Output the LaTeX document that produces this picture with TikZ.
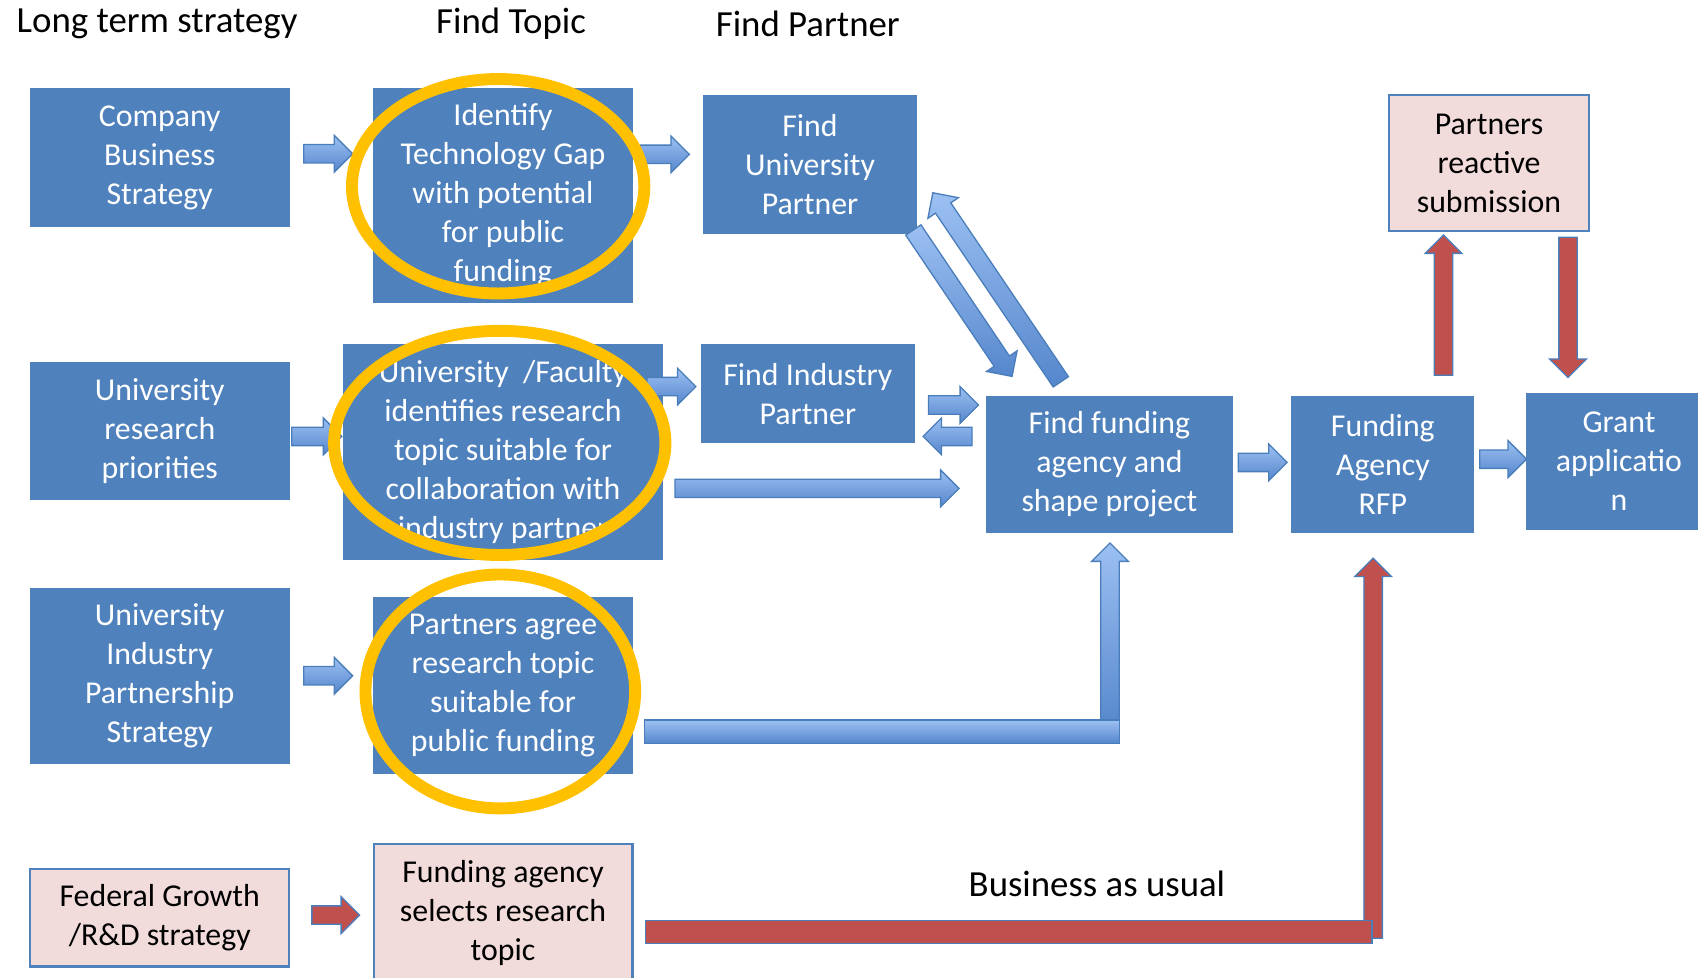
\documentclass[tikz,border=0pt]{standalone}
\usepackage{fontspec}
\setmainfont{Carlito}
\usetikzlibrary{calc}
\definecolor{boxblue}{HTML}{4F81BD}
\definecolor{boxpink}{HTML}{F2DCDB}
\definecolor{ringgold}{HTML}{FFC000}
\definecolor{arrtop}{HTML}{9CC0F2}
\definecolor{arrbot}{HTML}{5586CC}
\definecolor{arrline}{HTML}{4A7EBB}
\definecolor{arrred}{HTML}{C0504D}
\newcommand{\boxfont}{\fontsize{14.7}{18}\selectfont}
\newcommand{\headfont}{\fontsize{17}{20}\selectfont}
% block arrow from #2 to #3
\newcommand{\blockarr}[3][bluearr]{%
  \path #2 coordinate (ba) #3 coordinate (bb);
  \path ($(bb)!8.5pt!(ba)$) coordinate (bh);
  \path[#1] ($(ba)!4.25pt!90:(bb)$) -- ($(bh)!4.25pt!90:(bb)$)
    -- ($(bh)!8.5pt!90:(bb)$) -- (bb) -- ($(bh)!8.5pt!-90:(bb)$)
    -- ($(bh)!4.25pt!-90:(bb)$) -- ($(ba)!4.25pt!-90:(bb)$) -- cycle;}

\begin{document}
\begin{tikzpicture}[x = .5pt, y = -.5pt,
    box/.style = {draw=boxblue, fill=boxblue, text=white, font=\boxfont, align=center, inner sep=0pt},
    pinkbox/.style = {box, fill=boxpink, text=black, line width=1pt},
    head/.style = {font=\headfont},
    bluearr/.style = {draw=arrline, top color=arrtop, bottom color=arrbot, line width=.6pt},
    redarr/.style = {draw=arrline, fill=arrred, line width=.6pt},
    ring/.style = {draw=ringgold, line width=5.5pt}]

      \useasboundingbox (0,0) rectangle (1568,903);

      \node[head] (hlong) at (145,22) {Long term strategy};
      \node[head] (htopic) at (472,22) {Find Topic};
      \node[head] (hpart) at (746,22) {Find Partner};

      % left column
      \node[box, minimum width=119.5pt, minimum height=63.5pt] (comp) at (147.5,145.5) {Company\\Business\\Strategy};
      \node[box, minimum width=119.5pt, minimum height=63pt] (urp) at (147.5,398) {University\\research\\priorities};
      \node[box, minimum width=119.5pt, minimum height=81pt] (uips) at (147.5,624) {University\\Industry\\Partnership\\Strategy};
      \node[pinkbox, minimum width=119.5pt, minimum height=45pt] (fed) at (147.5,847.5) {Federal Growth\\/R\&D strategy};

      % topics
      \node[box, minimum width=119.5pt, minimum height=98.5pt] (ident) at (464.5,180.5) {Identify\\Technology Gap\\with potential\\for public\\funding};
      \node[box, minimum width=147.5pt, minimum height=99.5pt] (ufac) at (464.5,417.5) {University\ \ /Faculty\\identifies research\\topic suitable for\\collaboration with\\industry partner};
      \node[box, minimum width=119.5pt, minimum height=81pt] (agree) at (464.5,633) {Partners agree\\research topic\\suitable for\\public funding};
      \node[pinkbox, minimum width=119.5pt, minimum height=64pt] (sel) at (464.5,843) {Funding agency\\selects research\\topic};

      % partners and funding
      \node[box, minimum width=98pt, minimum height=64pt] (uniP) at (748,152) {Find\\University\\Partner};
      \node[box, minimum width=98pt, minimum height=45.5pt] (indP) at (746,363.5) {Find Industry\\Partner};
      \node[box, minimum width=113.5pt, minimum height=63pt] (fund) at (1024.5,429) {Find funding\\agency and\\shape project};
      \node[box, minimum width=84pt, minimum height=63pt] (rfp) at (1277,429) {Funding\\Agency\\RFP};
      \node[box, minimum width=85pt, minimum height=63pt] (grant) at (1495,426) {Grant\\applicatio\\n};
      \node[pinkbox, minimum width=92pt, minimum height=62.5pt] (react) at (1375,150.5) {Partners\\reactive\\submission};

      \node[head] (busy) at (1013,816) {Business as usual};

      % arrows
      \blockarr{($(comp.east)+(13,-3.5)$)}{($(ident.west)+(-19,-38.5)$)}
      \blockarr{($(ident.east)+(7,-38)$)}{($(uniP.west)+(-13,-9.5)$)}
      \blockarr{($(urp.east)+(2,5)$)}{($(ufac.west)+(-1,-14.5)$)}
      \blockarr{($(ufac.east)+(-15,-60.5)$)}{($(indP.west)+(-5,-6.5)$)}
      \blockarr{($(ufac.east)+(11,33.5)$)}{($(fund.west)+(-25,22)$)}
      \blockarr{($(indP.east)+(13,10.5)$)}{($(fund.west)+(-7,-55)$)}
      \blockarr{($(fund.west)+(-13,-26)$)}{($(indP.east)+(8,39.5)$)}
      \blockarr{($(uniP.south east)+(-3,-4)$)}{($(fund.north west)+(24,-18)$)}
      \blockarr{($(fund.north west)+(69,-13)$)}{($(uniP.east)+(15,26)$)}
      \blockarr{($(fund.east)+(5,-2)$)}{($(rfp.west)+(-4,-2)$)}
      \blockarr{($(rfp.east)+(5,-5)$)}{($(grant.west)+(0,-2)$)}
      \blockarr{($(uips.east)+(13,0)$)}{($(agree.west)+(-19,-9)$)}
      \blockarr[redarr]{($(fed.east)+(20,-2.5)$)}{($(sel.west)+(-12,2)$)}
      \blockarr[redarr]{($(rfp.north)+(56,-19)$)}{($(react.south)+(-42,3)$)}
      \blockarr[redarr]{($(react.south)+(73,5)$)}{($(grant.north)+(-47,-14)$)}

      \blockarr{($(fund.south)+(0.5,184)$)}{($(fund.south)+(0.5,9)$)}
      \path[bluearr] ($(agree.east)+(11,32)$) rectangle ($(fund.south)+(9.5,194)$);
      \blockarr[redarr]{($(rfp.south)+(-9,374)$)}{($(rfp.south)+(-9,23)$)}
      \path[redarr] ($(sel.east)+(11,7)$) rectangle ($(rfp.south)+(-10,379)$);

      % rings round the topics
      \draw[ring] ($(ident)+(-4.5,-8.5)$) ellipse [x radius=67.5pt, y radius=49.5pt];
      \draw[ring] ($(ufac)+(-3,-8.5)$) ellipse [x radius=76.5pt, y radius=51.75pt];
      \draw[ring] ($(agree)+(-2.5,5.5)$) ellipse [x radius=62.25pt, y radius=54pt];
\end{tikzpicture}
\end{document}
